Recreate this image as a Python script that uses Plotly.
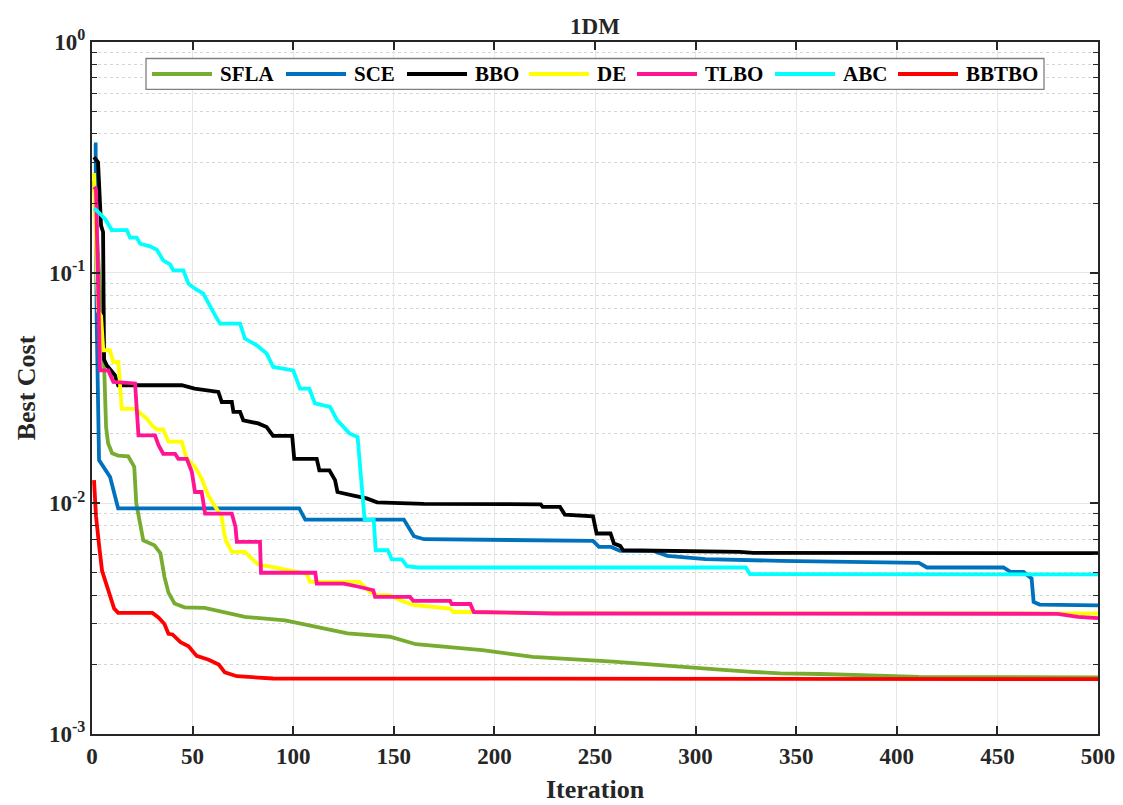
import plotly.graph_objects as go

# ---------------- data ----------------
SFLA_it = [1, 3, 5, 6, 7, 8, 10, 13, 18, 21, 22, 24.7, 25.5, 31, 34, 36, 38, 41, 46, 56, 63, 76, 96,
           120, 127, 148, 161, 194, 219, 259, 292, 312, 328, 342, 362, 411, 500]
SFLA_v = [0.25, 0.12, 0.06, 0.040, 0.0214, 0.0182, 0.0165, 0.0161, 0.0160, 0.0144, 0.0100, 0.0076, 0.0069,
          0.00658, 0.00608, 0.0048, 0.0041, 0.00368, 0.00354, 0.00352, 0.00342, 0.00322, 0.00311,
          0.00280, 0.00273, 0.00264, 0.00245, 0.00231, 0.00216, 0.00206, 0.00195, 0.00190, 0.00186,
          0.00183, 0.00182, 0.00177, 0.00176]

SCE_it = [1, 1.8, 2.3, 3.5, 9, 10.6, 13, 103, 106, 155, 160, 165, 228, 249, 252, 258, 262.5, 279, 286,
          305, 342, 411, 415, 453, 456.5, 463, 467, 468, 471, 500]
SCE_v = [0.36, 0.36, 0.064, 0.0154, 0.0130, 0.0116, 0.0095, 0.0095, 0.0085, 0.0085, 0.00720, 0.00699,
         0.00690, 0.00688, 0.00647, 0.00647, 0.00622, 0.00622, 0.00592, 0.00573, 0.00563, 0.00552,
         0.00527, 0.00527, 0.00504, 0.00504, 0.00472, 0.00374, 0.00364, 0.00361]

BBO_it = [1, 3, 4.5, 5.5, 6, 7.3, 11.4, 13, 44.6, 51, 62.8, 64.5, 69.5, 70.3, 73.6, 75.2, 82.6, 86.8,
          90, 99.5, 100.5, 111.7, 113, 118, 120.8, 122, 130, 136.5, 141.7, 165, 223, 224, 232.6, 235,
          249, 250.8, 257.7, 259.4, 262.5, 264, 322, 328.7, 500]
BBO_v = [0.317, 0.301, 0.16, 0.15, 0.042, 0.0397, 0.0359, 0.0325, 0.0325, 0.0314, 0.0304, 0.0275, 0.0275,
         0.0249, 0.0249, 0.0229, 0.0222, 0.0214, 0.0196, 0.0196, 0.0156, 0.0156, 0.0139, 0.0139, 0.0126,
         0.0112, 0.0108, 0.0105, 0.0101, 0.00995, 0.00990, 0.00965, 0.00965, 0.00894, 0.00879, 0.00740,
         0.00740, 0.00670, 0.00654, 0.00626, 0.00616, 0.00610, 0.00608]

DE_it = [1, 2, 3, 4.5, 5.6, 8.9, 10.6, 13.1, 14.8, 21.4, 23.9, 27.2, 29.7, 32.2, 35.4, 38, 44.6, 47.1,
         51.2, 54.5, 57.8, 61.1, 64.5, 65.5, 66.5, 69.5, 76, 79.3, 82.6, 89.2, 96, 106.7, 108.3, 133,
         138, 141.5, 148, 153, 160, 178, 179.6, 190, 230, 500]
DE_v = [0.27, 0.12, 0.068, 0.065, 0.0461, 0.0461, 0.0410, 0.0410, 0.0257, 0.0257, 0.0245, 0.0233, 0.0218,
        0.0209, 0.0209, 0.0185, 0.0185, 0.0156, 0.0144, 0.0128, 0.0108, 0.00965, 0.00873, 0.0076, 0.0069,
        0.00616, 0.00616, 0.00577, 0.00543, 0.00530, 0.00518, 0.00496, 0.00457, 0.00457, 0.00413,
        0.00400, 0.00400, 0.00380, 0.00362, 0.00350, 0.00338, 0.00338, 0.00334, 0.00333]

TLBO_it = [1, 2, 3, 4, 8.1, 10.6, 21.4, 23.1, 31.3, 33, 35.4, 41.3, 42.9, 47.1, 49.6, 51.2, 54.5, 56.2,
           69.5, 71.3, 72, 83.5, 84, 111, 111.7, 125, 131.5, 139.8, 140.7, 158, 159.7, 178, 178.8, 188,
           189.8, 230, 480, 490, 500]
TLBO_v = [0.235, 0.23, 0.09, 0.0377, 0.0377, 0.0336, 0.0331, 0.0197, 0.0197, 0.0179, 0.0164, 0.0164,
          0.0156, 0.0156, 0.0137, 0.0112, 0.0112, 0.00903, 0.00903, 0.00791, 0.00680, 0.00680, 0.00500,
          0.00500, 0.00449, 0.00449, 0.00437, 0.00420, 0.00393, 0.00393, 0.00378, 0.00378, 0.00366,
          0.00366, 0.00338, 0.00333, 0.00332, 0.00322, 0.00318]

ABC_it = [1, 2.3, 6.5, 9.8, 17.3, 18.9, 22.2, 23.9, 28.8, 32.2, 35.4, 38.8, 40.4, 45.4, 47.9, 51.2, 55.3,
          57.8, 60.3, 63.6, 73.6, 76, 81.9, 86.8, 90.1, 100, 103.4, 108, 110.8, 118.3, 121.9, 128, 132,
          135.5, 140, 141, 147, 149, 154, 156.5, 162, 325, 327, 500]
ABC_v = [0.19, 0.186, 0.171, 0.153, 0.153, 0.142, 0.142, 0.1335, 0.130, 0.1258, 0.113, 0.1086, 0.1023,
         0.1023, 0.0896, 0.0852, 0.0811, 0.0734, 0.0675, 0.0601, 0.0601, 0.0518, 0.0484, 0.0446, 0.0390,
         0.0377, 0.0314, 0.0314, 0.0271, 0.0262, 0.0229, 0.0201, 0.0194, 0.0085, 0.0085, 0.00626,
         0.00626, 0.00571, 0.00571, 0.00534, 0.00527, 0.00527, 0.00493, 0.00492]

BBTBO_it = [1, 2, 3.5, 5, 7, 9, 11, 13, 30, 33, 36, 38, 40, 44, 48, 52, 58, 63, 66, 72, 90, 500]
BBTBO_v = [0.0126, 0.0088, 0.0066, 0.0051, 0.0045, 0.0039, 0.0035, 0.00335, 0.00335, 0.0032, 0.0030,
           0.00272, 0.0027, 0.0025, 0.0024, 0.00218, 0.0021, 0.0020, 0.00185, 0.00178, 0.00174, 0.00173]

series = [
    ("SFLA", SFLA_it, SFLA_v, "#77AC30"),
    ("SCE", SCE_it, SCE_v, "#0072BD"),
    ("BBO", BBO_it, BBO_v, "#000000"),
    ("DE", DE_it, DE_v, "#FFFF00"),
    ("TLBO", TLBO_it, TLBO_v, "#FF1493"),
    ("ABC", ABC_it, ABC_v, "#00FFFF"),
    ("BBTBO", BBTBO_it, BBTBO_v, "#FF0000"),
]

x_ticks = [0, 50, 100, 150, 200, 250, 300, 350, 400, 450, 500]
y_ticks = [1e-3, 1e-2, 1e-1, 1e0]
y_ticktext = ["10<sup>-3</sup>", "10<sup>-2</sup>", "10<sup>-1</sup>", "10<sup>0</sup>"]
y_minor = [k * 10.0 ** e for e in (-3, -2, -1) for k in range(2, 10)]

FONT = "Liberation Serif"
AXC = "#262626"

# plot-area geometry in page pixels (used only to place the hand-made legend box)
PX_L, PX_R, PX_T, PX_B = 92.0, 1098.0, 41.5, 734.0
def px_to_paper_x(px):
    return (px - PX_L) / (PX_R - PX_L)
def px_to_paper_y(py):
    return 1 - (py - PX_T) / (PX_B - PX_T)

# legend entry starts (line start x) in page pixels
legend_line_x = [152, 286, 407, 529, 637, 775, 898]
legend_line_len = 60
legend_text_gap = 6
legend_box = (146, 58, 1044, 89)
legend_mid_y = 73.5

fig = go.Figure()
for name, xs, ys, col in series:
    fig.add_trace(go.Scatter(x=xs, y=ys, mode="lines", name=name, showlegend=False,
                             line=dict(color=col, width=3.8)))

shapes = [dict(type="rect", xref="paper", yref="paper", layer="above",
               x0=px_to_paper_x(legend_box[0]), x1=px_to_paper_x(legend_box[2]),
               y0=px_to_paper_y(legend_box[3]), y1=px_to_paper_y(legend_box[1]),
               fillcolor="white", line=dict(color="#7f7f7f", width=1.3))]
annotations = []
for (name, _, _, col), lx in zip(series, legend_line_x):
    shapes.append(dict(type="line", xref="paper", yref="paper", layer="above",
                       x0=px_to_paper_x(lx), x1=px_to_paper_x(lx + legend_line_len),
                       y0=px_to_paper_y(legend_mid_y), y1=px_to_paper_y(legend_mid_y),
                       line=dict(color=col, width=4)))
    annotations.append(dict(xref="paper", yref="paper", showarrow=False,
                            x=px_to_paper_x(lx + legend_line_len + legend_text_gap),
                            y=px_to_paper_y(legend_mid_y), xanchor="left", yanchor="middle",
                            text=name,
                            font=dict(family=FONT, size=21, color="black", weight="bold")))

fig.update_layout(
    width=1123, height=805,
    margin=dict(l=84, r=33, t=34, b=79),
    paper_bgcolor="white", plot_bgcolor="white",
    title=dict(text="1DM", xref="paper", x=0.5, xanchor="center", y=0.978, yanchor="middle",
               font=dict(family=FONT, size=23, color="#262626", weight="bold")),
    font=dict(family=FONT, color="#262626"),
    showlegend=False,
    shapes=shapes,
    annotations=annotations,
)

fig.update_xaxes(
    range=[0, 500], tickmode="array", tickvals=x_ticks,
    ticks="inside", ticklen=8, tickwidth=1.5, tickcolor=AXC,
    showline=True, linecolor=AXC, linewidth=2, mirror="ticks",
    showgrid=True, gridcolor="#e6e6e6", gridwidth=1.2, zeroline=False,
    tickfont=dict(family=FONT, size=23, color="#262626", weight="bold"),
    title=dict(text="Iteration", standoff=12,
               font=dict(family=FONT, size=26, color="#262626", weight="bold")),
)

fig.update_yaxes(
    type="log", range=[-3, 0], tickmode="array", tickvals=y_ticks, ticktext=y_ticktext,
    ticks="inside", ticklen=8, tickwidth=1.5, tickcolor=AXC,
    showline=True, linecolor=AXC, linewidth=2, mirror="ticks",
    showgrid=True, gridcolor="#e6e6e6", gridwidth=1.2, zeroline=False,
    minor=dict(tickmode="array", tickvals=y_minor, ticks="inside", ticklen=5,
               tickcolor=AXC, tickwidth=1.2, showgrid=True, gridcolor="#d6d6d6",
               griddash="dot", gridwidth=1),
    tickfont=dict(family=FONT, size=23, color="#262626", weight="bold"),
    title=dict(text="Best Cost", standoff=6,
               font=dict(family=FONT, size=26, color="#262626", weight="bold")),
)

fig.write_html("out.html")
